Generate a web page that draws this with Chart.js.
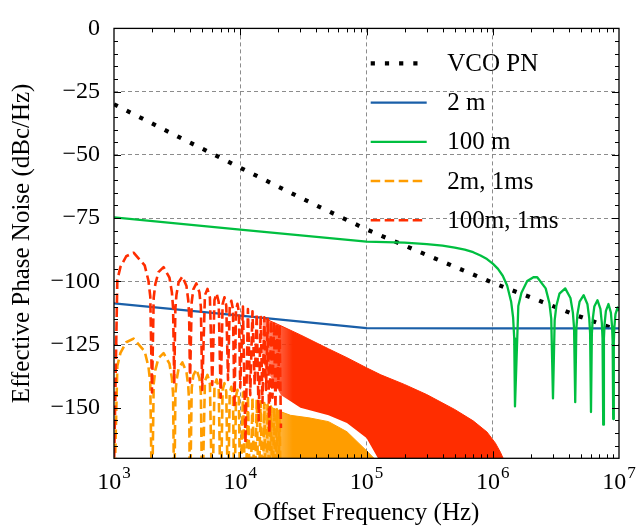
<!DOCTYPE html>
<html>
<head>
<meta charset="utf-8">
<script src="https://cdn.jsdelivr.net/npm/chart.js@4.4.0/dist/chart.umd.min.js"></script>
<style>
  html, body { margin: 0; padding: 0; background: #fff; }
</style>
</head>
<body>
<canvas id="pn" width="637" height="529"></canvas>
<script>
// offset frequency (Hz) vs effective phase noise (dBc/Hz)

var vcoHz = [1e3, 3.25e3, 1e4, 3.16e4, 1e5, 3.28e5, 1e6, 2.16e6, 4.45e6, 1e7];
var vcoDb = [-30.0, -42.9, -55.1, -67.5, -79.5, -90.4, -100.6, -107.0, -113.2, -119.5];

var blueHz = [1e3, 1e4, 1e5, 1e6, 1e7];
var blueDb = [-108.7, -113.6, -118.5, -118.6, -118.6];

var greenHz = [1e3, 1e4, 1e5, 2e5, 3e5, 4e5, 5e5, 6e5, 7e5, 8e5, 9e5, 1e6, 1.1e6, 1.2e6, 1.3e6, 1.4e6, 1.45e6, 1.48e6, 1.5e6,
  1.594e6, 1.688e6, 1.875e6, 2.1e6, 2.25e6, 2.625e6, 2.812e6, 2.906e6, 3.0e6,
  3.094e6, 3.188e6, 3.375e6, 3.75e6, 4.125e6, 4.312e6, 4.406e6, 4.5e6,
  4.594e6, 4.688e6, 4.875e6, 5.25e6, 5.625e6, 5.812e6, 5.906e6, 6.0e6,
  6.094e6, 6.188e6, 6.375e6, 6.75e6, 7.125e6, 7.312e6, 7.406e6, 7.5e6,
  7.594e6, 7.688e6, 7.875e6, 8.25e6, 8.625e6, 8.812e6, 8.906e6, 9.0e6,
  9.094e6, 9.188e6, 9.375e6, 9.75e6, 1e7];
var greenDb = [-74.7, -79.6, -84.3, -84.7, -85.3, -85.9, -86.7, -87.5, -88.5, -89.8, -91.2, -93.0, -95.1, -97.8, -101.7, -108.2, -114.4, -122.6, -149.5,
  -109.8, -104.5, -99.9, -98.4, -98.4, -102.8, -108.7, -114.8, -146.3,
  -115.4, -109.8, -104.9, -102.8, -106.6, -112.4, -118.4, -147.8,
  -118.7, -113.0, -108.0, -105.5, -109.1, -114.7, -120.6, -151.7,
  -120.9, -115.2, -110.0, -107.5, -110.9, -116.5, -122.4, -156.7,
  -122.6, -116.9, -111.7, -109.0, -112.4, -117.9, -123.8, -154.5,
  -124.0, -118.3, -113.0, -110.3, -111.8];

// 1 ms averaging: resolved lobes up to ~21 kHz
var lobeHz = [1.0e3,
  1.0625e3, 1.125e3, 1.25e3, 1.43e3, 1.75e3, 1.875e3, 1.9375e3, 2.0e3,
  2.0625e3, 2.125e3, 2.25e3, 2.47e3, 2.75e3, 2.875e3, 2.9375e3, 3.0e3,
  3.0625e3, 3.125e3, 3.25e3, 3.48e3, 3.75e3, 3.875e3, 3.9375e3, 4.0e3,
  4.125e3, 4.25e3, 4.49e3, 4.75e3, 4.875e3, 5.0e3,
  5.25e3, 5.5e3, 5.75e3, 6.0e3,
  6.25e3, 6.5e3, 6.75e3, 7.0e3,
  7.25e3, 7.5e3, 7.75e3, 8.0e3,
  8.25e3, 8.5e3, 8.75e3, 9.0e3,
  9.25e3, 9.5e3, 9.75e3, 10.0e3,
  10.5e3, 11e3, 11.5e3, 12e3, 12.5e3, 13e3, 13.5e3, 14e3, 14.5e3, 15e3,
  15.5e3, 16e3, 16.5e3, 17e3, 17.5e3, 18e3, 18.5e3, 19e3, 19.5e3, 20e3, 20.5e3, 21e3];
var red1msDb = [-175,
  -99.5, -94.3, -90.1, -88.7, -93.7, -99.8, -106.0, -144,
  -106.6, -101.1, -96.4, -94.4, -98.6, -104.4, -110.5, -140.5,
  -110.9, -105.3, -100.4, -98.1, -101.9, -107.6, -113.6, -140,
  -108.2, -103.2, -100.8, -104.4, -110.1, -143,
  -105.5, -103.0, -106.5, -141,
  -107.4, -104.8, -108.2, -146,
  -109.0, -106.3, -109.7, -139,
  -110.4, -107.7, -111.0, -150,
  -111.6, -108.9, -112.2, -142,
  -110.0, -164, -111.0, -145, -111.9, -141, -112.7, -155, -113.5, -148,
  -114.2, -143, -114.8, -160, -115.5, -146, -116.1, -150, -116.6, -142, -117.2, -158];
var orange1msDb = [-190,
  -133.5, -128.3, -124.1, -122.7, -127.7, -133.8, -140.0, -190,
  -140.6, -135.1, -130.4, -128.4, -132.6, -138.4, -144.5, -190,
  -144.9, -139.3, -134.4, -132.1, -135.9, -141.6, -147.6, -190,
  -142.2, -137.2, -134.8, -138.4, -144.1, -190,
  -139.5, -137.0, -140.5, -190,
  -141.4, -138.8, -142.2, -190,
  -143.0, -140.3, -143.7, -190,
  -144.4, -141.7, -145.0, -190,
  -145.6, -142.9, -146.2, -190,
  -144.0, -190, -145.0, -190, -145.9, -190, -146.7, -190, -147.5, -190,
  -148.2, -190, -148.8, -190, -149.5, -190, -150.1, -190, -150.6, -190, -151.2, -190];

// unresolved part of the 1 ms curves: lobe peaks and the floor they fill down to
var denseRedHz = [1.5e4, 2.1e4, 3e4, 5e4, 7e4, 1e5, 1.3e5, 2e5, 3e5, 5e5, 7e5, 9e5, 1.05e6, 1.15e6, 1.25e6];
var denseRedTopDb = [-114.3, -117.6, -121.2, -126.7, -130.2, -134.2, -137.0, -140.8, -144.8, -150.7, -155.2, -159.6, -164.0, -167.6, -171.6];
var denseRedFloorDb = [-132, -145, -150, -153, -156, -162, -172, -175, -175, -175, -175, -175, -175, -175, -175];
var denseOrangeHz = [1.5e4, 2.1e4, 2.5e4, 3.5e4, 5e4, 7e4, 1e5, 1.2e5];
var denseOrangeTopDb = [-148.2, -151.6, -153.0, -154.0, -155.5, -159.5, -167.0, -171.0];

var xMajor = [1e3, 1e4, 1e5, 1e6, 1e7];
var yMajor = [-150, -125, -100, -75, -50, -25, 0];

var FONT = '"Liberation Serif", "Times New Roman", serif';
var RED = [255, 45, 0], ORANGE = [255, 157, 0];
var GREEN = '#00bf40', BLUE = '#1a5fa8', GRID = '#8c8c8c';

function rgb(c, a) {
  return 'rgba(' + c[0] + ',' + c[1] + ',' + c[2] + ',' + (a === undefined ? 1 : a) + ')';
}

function pts(hz, db) {
  return hz.map(function (f, i) { return { x: f, y: db[i] }; });
}

// the unresolved band thickens gradually where the lobes merge
function fadeIn(c, f0, f1) {
  return function (sc) {
    var ch = sc.chart;
    if (!ch.chartArea) return rgb(c);
    var xs = ch.scales.x;
    var g = ch.ctx.createLinearGradient(xs.getPixelForValue(f0), 0, xs.getPixelForValue(f1), 0);
    g.addColorStop(0, rgb(c, 0.45));
    g.addColorStop(1, rgb(c));
    return g;
  };
}

function edgeless(ctx) {
  var n = ctx.scale.ticks.length;
  return (ctx.index === 0 || ctx.index === n - 1) ? 'rgba(0,0,0,0)' : GRID;
}

// frame with inward ticks on all four sides, plus 10^n labels
var framePlugin = {
  id: 'frame',
  afterDraw: function (chart) {
    var ctx = chart.ctx, a = chart.chartArea;
    var xs = chart.scales.x, ys = chart.scales.y;
    ctx.save();
    ctx.strokeStyle = '#000';
    ctx.lineWidth = 1;
    function tickX(v, len) {
      var px = Math.round(xs.getPixelForValue(v)) + 0.5;
      ctx.beginPath();
      ctx.moveTo(px, a.bottom); ctx.lineTo(px, a.bottom - len);
      ctx.moveTo(px, a.top); ctx.lineTo(px, a.top + len);
      ctx.stroke();
    }
    function tickY(v, len) {
      var py = Math.round(ys.getPixelForValue(v)) + 0.5;
      ctx.beginPath();
      ctx.moveTo(a.left, py); ctx.lineTo(a.left + len, py);
      ctx.moveTo(a.right, py); ctx.lineTo(a.right - len, py);
      ctx.stroke();
    }
    for (var d = 1e3; d < 1e7; d *= 10) {
      for (var m = 2; m <= 9; m++) tickX(m * d, 4);
      if (d > 1e3) tickX(d, 7);
    }
    for (var v = -165; v < 0; v += 5) tickY(v, v % 25 === 0 ? 7 : 4);

    ctx.lineWidth = 1.3;
    ctx.strokeRect(a.left, a.top, a.right - a.left, a.bottom - a.top);

    ctx.fillStyle = '#000';
    ctx.textAlign = 'left';
    ctx.textBaseline = 'alphabetic';
    xMajor.forEach(function (val) {
      var px = xs.getPixelForValue(val);
      var exp = String(Math.round(Math.log10(val)));
      ctx.font = '24px ' + FONT;
      var wb = ctx.measureText('10').width;
      ctx.font = '17px ' + FONT;
      var we = ctx.measureText(exp).width;
      var x0 = px - (wb + we + 1) / 2;
      ctx.font = '24px ' + FONT;
      ctx.fillText('10', x0, a.bottom + 31);
      ctx.font = '17px ' + FONT;
      ctx.fillText(exp, x0 + wb + 1, a.bottom + 20);
    });
    ctx.restore();
  }
};

// frameless legend in the upper right of the plot
var legendPlugin = {
  id: 'innerLegend',
  afterDraw: function (chart) {
    var ctx = chart.ctx, a = chart.chartArea;
    var items = chart.data.datasets.filter(function (d) { return d.legendRank; })
      .sort(function (p, q) { return p.legendRank - q.legendRank; });
    ctx.save();
    items.forEach(function (d, i) {
      var y = a.top + 35 + i * 39.2;
      var x1 = a.right - 248.3;
      ctx.beginPath();
      ctx.strokeStyle = d.borderColor;
      ctx.lineWidth = d.borderWidth;
      ctx.lineCap = 'butt';
      ctx.setLineDash(d.borderDash || []);
      ctx.moveTo(x1, y);
      ctx.lineTo(x1 + 56, y);
      ctx.stroke();
      ctx.setLineDash([]);
      ctx.fillStyle = '#000';
      ctx.font = '25px ' + FONT;
      ctx.textAlign = 'left';
      ctx.textBaseline = 'middle';
      ctx.fillText(d.label, a.right - 171.7, y + 1);
    });
    ctx.restore();
  }
};

var datasets = [
  { label: '100m, 1ms', legendRank: 5, data: pts(lobeHz, red1msDb),
    borderColor: rgb(RED), borderWidth: 2.6, borderDash: [9.5, 4.5], order: 1 },
  { label: '100m, 1ms dense', data: pts(denseRedHz, denseRedTopDb),
    borderColor: rgb(RED), backgroundColor: fadeIn(RED, 1.5e4, 2.6e4), borderWidth: 1, fill: '+1', order: 2 },
  { label: '100m, 1ms floor', data: pts(denseRedHz, denseRedFloorDb),
    borderColor: 'rgba(0,0,0,0)', borderWidth: 0, fill: false, order: 3 },
  { label: '2m, 1ms', legendRank: 4, data: pts(lobeHz, orange1msDb),
    borderColor: rgb(ORANGE), borderWidth: 2.6, borderDash: [9.5, 4.5], order: 4 },
  { label: '2m, 1ms dense', data: pts(denseOrangeHz, denseOrangeTopDb),
    borderColor: rgb(ORANGE), backgroundColor: fadeIn(ORANGE, 1.5e4, 2.6e4), borderWidth: 1, fill: 'start', order: 5 },
  { label: '100 m', legendRank: 3, data: pts(greenHz, greenDb),
    borderColor: GREEN, borderWidth: 2.3, order: 6 },
  { label: '2 m', legendRank: 2, data: pts(blueHz, blueDb),
    borderColor: BLUE, borderWidth: 2.2, order: 7 },
  { label: 'VCO PN', legendRank: 1, data: pts(vcoHz, vcoDb),
    borderColor: '#000', borderWidth: 4.2, borderDash: [4.2, 10], order: 8 }
];
datasets.forEach(function (d) {
  d.clip = 0;
  d.pointRadius = 0;
  d.tension = 0;
  d.borderJoinStyle = 'round';
  d.borderCapStyle = 'butt';
  if (d.fill === undefined) d.fill = false;
});

new Chart(document.getElementById('pn').getContext('2d'), {
  type: 'line',
  data: { datasets: datasets },
  options: {
    responsive: false,
    animation: false,
    layout: { padding: { left: 0, right: 18, top: 16.7, bottom: 0 } },
    plugins: { legend: { display: false }, tooltip: { enabled: false } },
    scales: {
      x: {
        type: 'logarithmic',
        min: 1e3,
        max: 1e7,
        afterBuildTicks: function (s) { s.ticks = xMajor.map(function (v) { return { value: v }; }); },
        afterFit: function (s) { s.height = 70.7; },
        ticks: { display: false },
        grid: { color: edgeless, lineWidth: 1, drawTicks: false },
        border: { display: false, dash: [4, 3] },
        title: { display: true, text: 'Offset Frequency (Hz)', color: '#000',
          font: { family: FONT, size: 25 }, padding: { top: 0, bottom: 1 } }
      },
      y: {
        min: -170,
        max: 0,
        afterBuildTicks: function (s) { s.ticks = yMajor.map(function (v) { return { value: v }; }); },
        afterFit: function (s) { s.width = 114; },
        ticks: {
          color: '#000',
          padding: 14,
          font: { family: FONT, size: 24 },
          callback: function (v) { return v === 0 ? '0' : '\u2212' + Math.abs(v); }
        },
        grid: { color: edgeless, lineWidth: 1, drawTicks: false },
        border: { display: false, dash: [4, 3] },
        title: { display: true, text: 'Effective Phase Noise (dBc/Hz)', color: '#000',
          font: { family: FONT, size: 25 }, padding: { top: 7, bottom: 0 } }
      }
    }
  },
  plugins: [framePlugin, legendPlugin]
});
</script>
</body>
</html>
